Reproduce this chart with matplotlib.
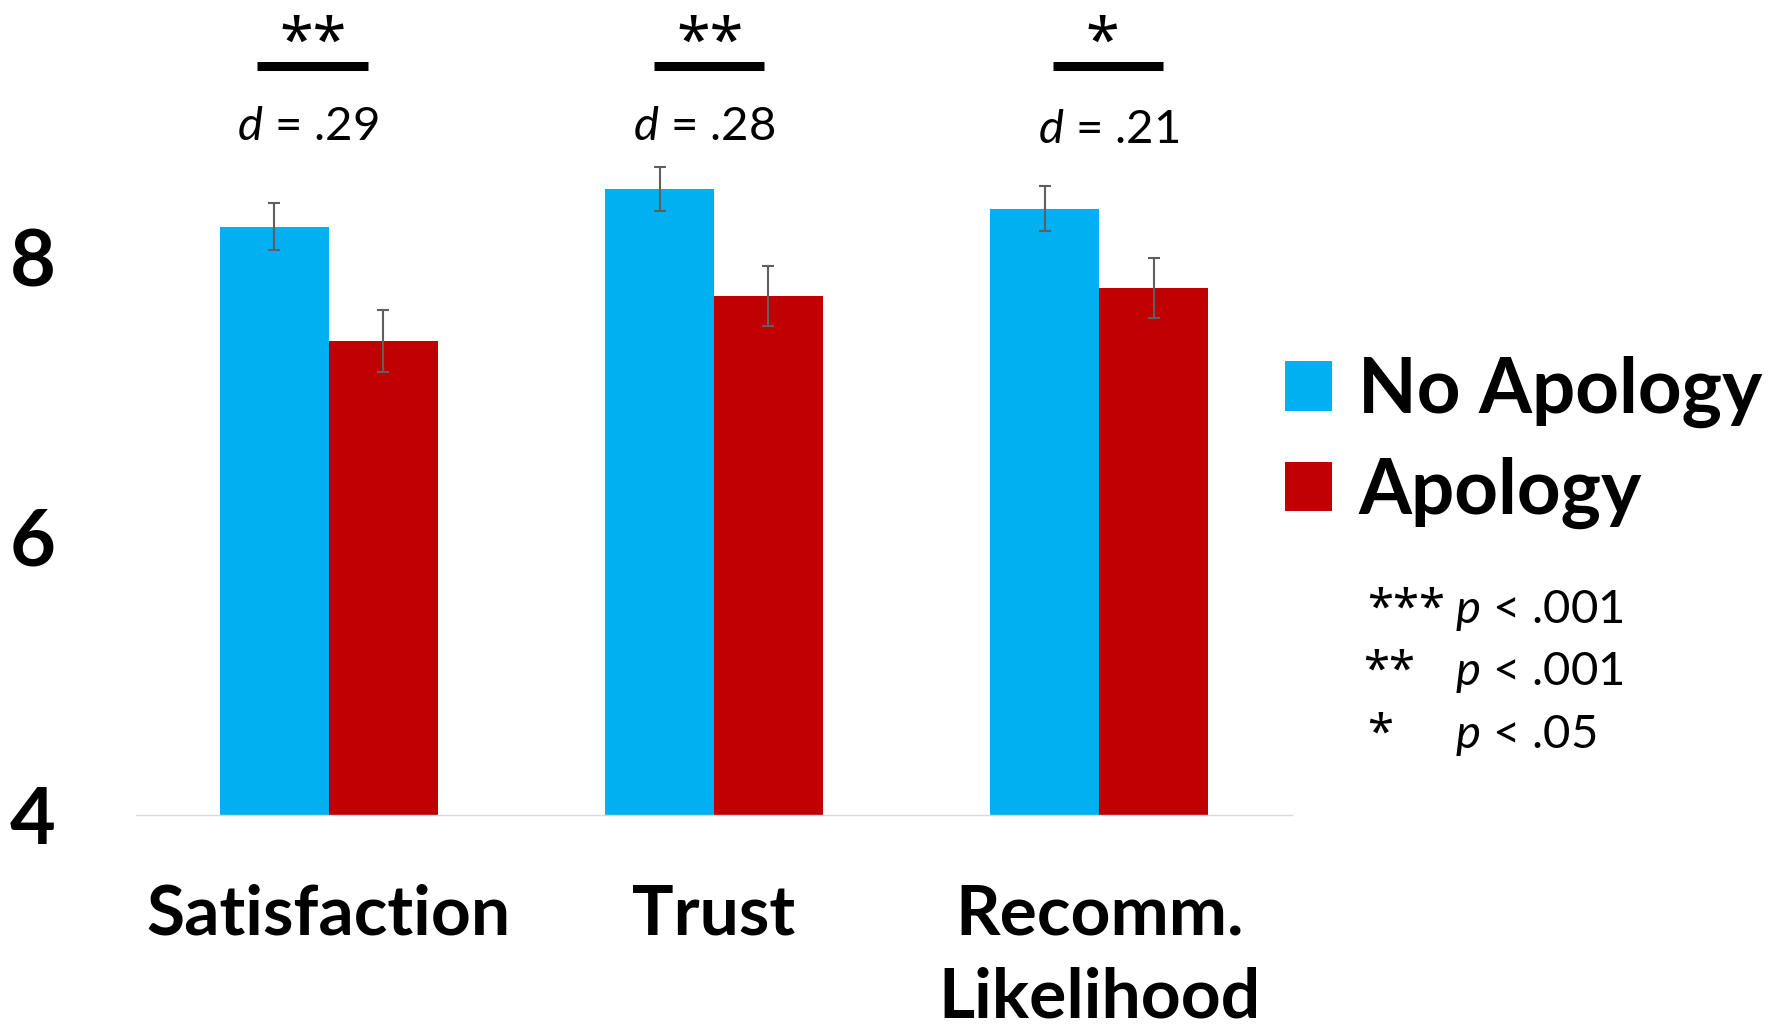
import matplotlib.pyplot as plt
import numpy as np
from matplotlib import rcParams

rcParams['font.family'] = ['Lato', 'DejaVu Sans']
rcParams['mathtext.fontset'] = 'custom'
rcParams['mathtext.rm'] = 'Lato'
rcParams['mathtext.it'] = 'Lato:italic'

# data
categories = ["Satisfaction", "Trust", "Recomm.\nLikelihood"]
no_apology = [8.22, 8.49, 8.35]
apology = [7.40, 7.72, 7.78]
no_apology_se = [0.17, 0.16, 0.16]
apology_se = [0.225, 0.215, 0.215]
sig_stars = ["**", "**", "*"]
effect_d = [".29", ".28", ".21"]
y_ticks = [4, 6, 8]

blue = "#00B0F0"
red = "#C00000"
err_color = "#5F5F5F"

fig = plt.figure(figsize=(17.73, 10.29), dpi=100)
ax = fig.add_axes([136 / 1773, 1 - 815 / 1029, (1292 - 136) / 1773, (815 - 118) / 1029])

x = np.arange(len(categories))
w = 0.2825
err_kw = dict(ecolor=err_color, elinewidth=1.5, capsize=4.5, capthick=1.5)
ax.bar(x - w / 2, no_apology, w, yerr=no_apology_se, color=blue, label="No Apology",
       error_kw=err_kw, zorder=2)
ax.bar(x + w / 2, apology, w, yerr=apology_se, color=red, label="Apology",
       error_kw=err_kw, zorder=2)

ax.set_xlim(-0.5, 2.5)
ax.set_ylim(4, 9)
ax.set_yticks(y_ticks)
ax.set_yticklabels([str(t) for t in y_ticks], fontsize=57, fontweight="bold")
ax.set_xticks(x)
ax.set_xticklabels(categories, fontsize=50, fontweight="bold", linespacing=1.40)
ax.tick_params(axis="y", length=0, pad=58)
ax.tick_params(axis="x", length=0, pad=49)

for s in ["top", "right", "left"]:
    ax.spines[s].set_visible(False)
ax.spines["bottom"].set_color("#D9D9D9")
ax.spines["bottom"].set_linewidth(1.0)

# significance brackets and effect sizes (offsets are label positions)
star_font = ['Noto Sans', 'DejaVu Sans']
star_dx = [-0.04, -0.011, 0.009]
line_dx = [-0.042, -0.013, 0.023]
d_dx = [-0.055, -0.026, 0.025]
half = 0.143
for i in range(len(categories)):
    ax.plot([i + line_dx[i] - half, i + line_dx[i] + half], [9.37, 9.37],
            color="black", linewidth=6.5, solid_capstyle="butt", clip_on=False)
    ax.text(i + star_dx[i], 9.41, sig_stars[i], ha="center", va="baseline",
            fontsize=44, family=star_font, clip_on=False)
    ax.text(i + d_dx[i], 8.84 if i < 2 else 8.82, r"$d$ = " + effect_d[i],
            ha="center", va="baseline", fontsize=34, clip_on=False)

leg = ax.legend(loc="upper left", bbox_to_anchor=(1285 / 1773, 1 - 356 / 1029),
                bbox_transform=fig.transFigure, frameon=False,
                prop=dict(weight="bold", size=55), handlelength=0.62, handleheight=0.62,
                handletextpad=0.34, labelspacing=0.37, borderpad=0, borderaxespad=0)

# p-value key
p_rows = [("***", ".001"), ("**", ".001"), ("*", ".05")]
star_x = [1367, 1363, 1367]
row_y = [623, 685, 748]
for (st, pv), sx, ry in zip(p_rows, star_x, row_y):
    fig.text(sx / 1773, 1 - ry / 1029, st, fontsize=34, family=star_font,
             va="baseline", ha="left")
    fig.text(1455 / 1773, 1 - ry / 1029, r"$p$ < " + pv, fontsize=34, va="baseline", ha="left")

fig.savefig("out.png", dpi=100, facecolor="white")
